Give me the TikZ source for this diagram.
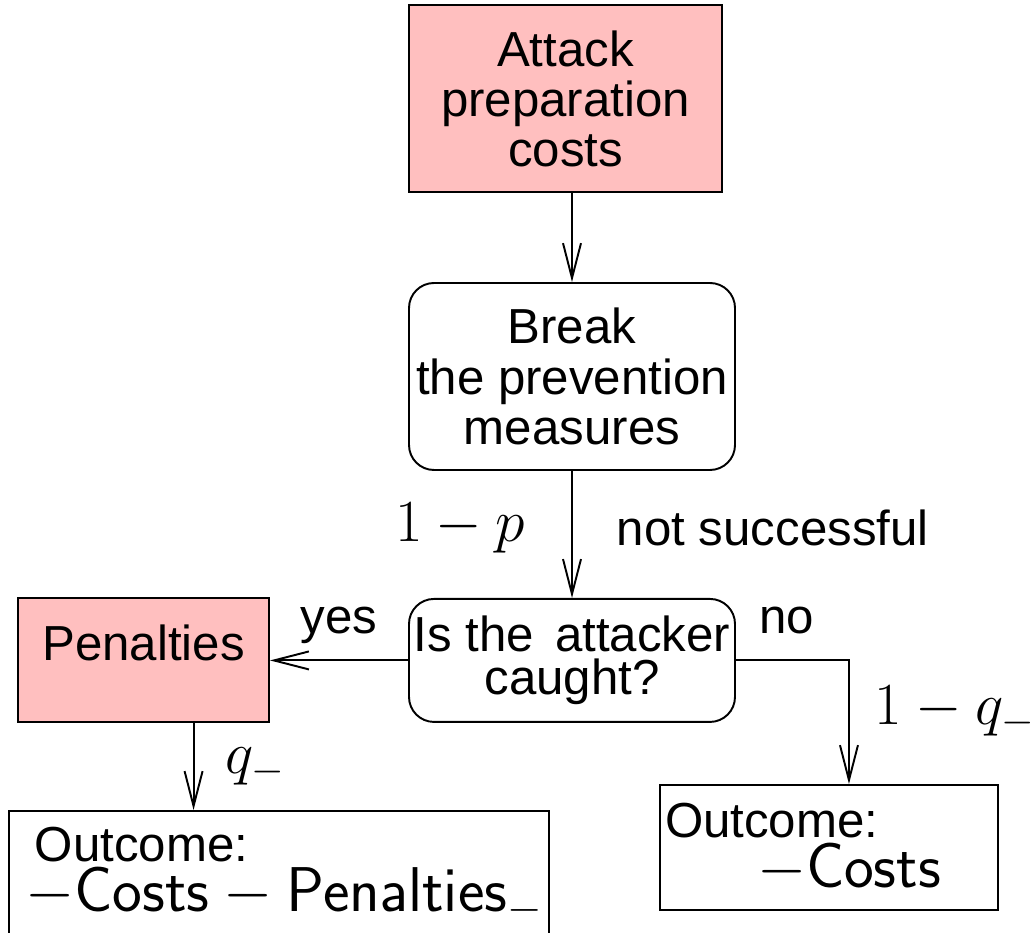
\RequirePackage{fix-cm}
\documentclass[tikz,border=0pt]{standalone}
\usepackage[no-math]{fontspec}
\setmainfont{Liberation Sans}
\usetikzlibrary{positioning}
\usetikzlibrary{arrows.meta}
\definecolor{costpink}{RGB}{255,191,191}

\begin{document}
\begin{tikzpicture}[font=\fontsize{28}{28.5}\selectfont,
costnode/.style={rectangle, draw=black, fill=costpink, line width=1.1pt, inner sep=2pt, align=center},
stepnode/.style={rectangle, rounded corners=0.5cm, draw=black, fill=white, line width=1.1pt, inner sep=2pt, align=center},
outnode/.style={rectangle, draw=black, fill=white, line width=1.1pt, align=left},
problabel/.style={font=\fontsize{34}{34}\selectfont, inner sep=0pt},
textlabel/.style={inner sep=0pt},
flow/.style={-{Straight Barb[length=7mm,width=3.6mm]}, line width=1.1pt}]
\useasboundingbox (0,0) rectangle (20.72,-18.66);

\node[stepnode, minimum width=6.52cm, minimum height=3.74cm] (brk) at (11.44,-7.53) {Break\\the prevention\\measures};
\node[costnode, minimum width=6.26cm, minimum height=3.74cm, above=1.78cm of brk.north west, anchor=south west] (attack) {Attack\\preparation\\costs};
\node[stepnode, font=\fontsize{28}{24.5}\selectfont, minimum width=6.52cm, minimum height=2.46cm, below=2.54cm of brk] (caught) {Is the\hspace{0.15em} attacker\\caught?};
\node[costnode, minimum width=5.02cm, minimum height=2.48cm, text height=0.5cm, text depth=0.5cm, left=2.76cm of caught] (pen) {Penalties};
\node[outnode, anchor=north west, inner xsep=0.25cm, inner ysep=0.33cm, text width=10.3cm] (out1) at (0.16,-16.2) {\hspace*{0.27cm}Outcome:\\\hspace*{0.08cm}\mbox{\fontsize{36}{36}\selectfont$-\mathsf{Costs}-\mathsf{Penalties}_-$}\rule[-1.2cm]{0pt}{0pt}};
\node[outnode, inner sep=0.1cm, text width=6.56cm, minimum height=2.5cm] (out2) at (16.58,-16.95) {Outcome:\\\hspace*{1.84cm}\mbox{\fontsize{36}{36}\selectfont$-\mathsf{Costs}$}};
\path (caught.east) ++(2.26,0) coordinate (nocorner);

\draw[flow] (attack.south -| brk.north) -- (brk.north);
\draw[flow] (brk) -- node[problabel, pos=0.45, left=0.92cm] {$1-p$} node[textlabel, pos=0.45, right=0.88cm] {not successful} (caught);
\draw[flow] (caught) -- node[textlabel, above=0.32cm] {yes} (pen);
\draw[flow] (caught.east) -- node[textlabel, pos=0.45, above=0.5cm] {no} (nocorner) -- node[problabel, pos=0.41, right=0.5cm] {$1-q_-$} (nocorner |- out2.north);
\draw[flow] ([xshift=1cm]pen.south) -- node[problabel, pos=0.5, right=0.62cm] {$q_-$} ([xshift=1cm]pen.south |- out1.north);
\end{tikzpicture}
\end{document}
